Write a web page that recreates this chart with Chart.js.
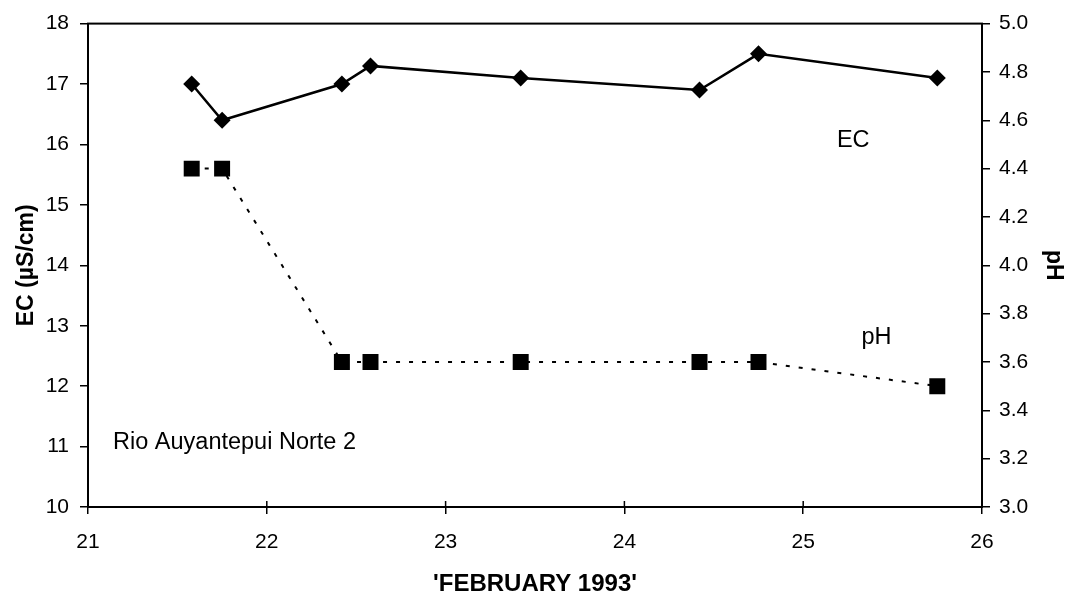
<!DOCTYPE html>
<html>
<head>
<meta charset="utf-8">
<script src="https://cdn.jsdelivr.net/npm/chart.js@4"></script>
<style>
html,body{margin:0;padding:0;background:#fff}
#wrap{width:1067px;height:599px}
</style>
</head>
<body>
<div id="wrap"><canvas id="chart" width="1067" height="599"></canvas></div>
<script>
// days in February 1993
let days = [21.58, 21.75, 22.42, 22.58, 23.42, 24.42, 24.75, 25.75]
let ecValues = [17.0, 16.4, 17.0, 17.3, 17.1, 16.9, 17.5, 17.1]
let phValues = [4.4, 4.4, 3.6, 3.6, 3.6, 3.6, 3.6, 3.5]

let labelNotes = [
{text:"EC", x:25.28, y:16.06, align:"center"},
{text:"pH", x:25.41, y:12.8, align:"center"},
{text:"Rio Auyantepui Norte 2", x:21.14, y:11.06, align:"left"}
]

let font = "Arial, 'Liberation Sans', sans-serif"

function pairs(xs, ys){
return xs.map((x,i)=>({x:x, y:ys[i]}))
}

const notesPlugin = {
id:"notes",
afterDatasetsDraw(chart){
let ctx = chart.ctx
let xs = chart.scales.x, ys = chart.scales.y
ctx.save()
ctx.fillStyle = "#000"
ctx.font = "23.5px " + font
ctx.textBaseline = "middle"
labelNotes.forEach(n=>{
ctx.textAlign = n.align
ctx.fillText(n.text, xs.getPixelForValue(n.x), ys.getPixelForValue(n.y))
})
ctx.restore()
}
}

// box round the plot and the small inner ticks on the x axis
const framePlugin = {
id:"frame",
afterDraw(chart){
let a = chart.chartArea
let ctx = chart.ctx
let xs = chart.scales.x
ctx.save()
ctx.strokeStyle = "#000"
ctx.lineWidth = 2
ctx.strokeRect(a.left, a.top, a.right-a.left, a.bottom-a.top)
ctx.lineWidth = 1.5
xs.ticks.forEach(t=>{
let px = xs.getPixelForValue(t.value)
ctx.beginPath()
ctx.moveTo(px, a.bottom-6)
ctx.lineTo(px, a.bottom)
ctx.stroke()
})
ctx.restore()
}
}

let ctx = document.getElementById("chart").getContext("2d")

new Chart(ctx,{
type:"line",
data:{
datasets:[
{
label:"EC",
data:pairs(days, ecValues),
yAxisID:"y",
borderColor:"#000",
backgroundColor:"#000",
borderWidth:2.5,
pointStyle:"rectRot",
pointRadius:8.5,
pointBorderWidth:0,
tension:0
},
{
label:"pH",
data:pairs(days, phValues),
yAxisID:"y1",
borderColor:"#000",
backgroundColor:"#000",
borderWidth:2,
borderDash:[4,9],
pointStyle:"rect",
pointRadius:11.3,
pointBorderWidth:0,
tension:0
}
]
},
plugins:[notesPlugin, framePlugin],
options:{
responsive:false,
animation:false,
layout:{padding:{top:21, left:0, right:0, bottom:0}},
plugins:{legend:{display:false}, tooltip:{enabled:false}},
scales:{
x:{
type:"linear",
min:21, max:26,
afterFit(s){ s.height = 92 },
ticks:{stepSize:1, color:"#000", padding:16, font:{family:font, size:21}},
grid:{drawOnChartArea:false, color:"#000", tickLength:7, lineWidth:1.5},
border:{color:"#000", width:2},
title:{display:true, text:"'FEBRUARY 1993'", color:"#000", font:{family:font, size:24, weight:"bold"}, padding:{top:0,bottom:0}}
},
y:{
position:"left",
min:10, max:18,
afterFit(s){ s.width = 88 },
ticks:{stepSize:1, color:"#000", padding:11, font:{family:font, size:21}},
grid:{drawOnChartArea:false, color:"#000", tickLength:8, lineWidth:1.5},
border:{color:"#000", width:2},
title:{display:true, text:"EC (µS/cm)", color:"#000", font:{family:font, size:23, weight:"bold"}, padding:{top:13,bottom:0}}
},
y1:{
position:"right",
min:3.0, max:5.0,
afterFit(s){ s.width = 85 },
ticks:{stepSize:0.2, color:"#000", padding:9, font:{family:font, size:21},
callback:v=>Number(v).toFixed(1)},
grid:{drawOnChartArea:false, color:"#000", tickLength:8, lineWidth:1.5},
border:{color:"#000", width:2},
title:{display:true, text:"pH", color:"#000", font:{family:font, size:23, weight:"bold"}, padding:{top:0,bottom:0}}
}
}
}
})
</script>
</body>
</html>
